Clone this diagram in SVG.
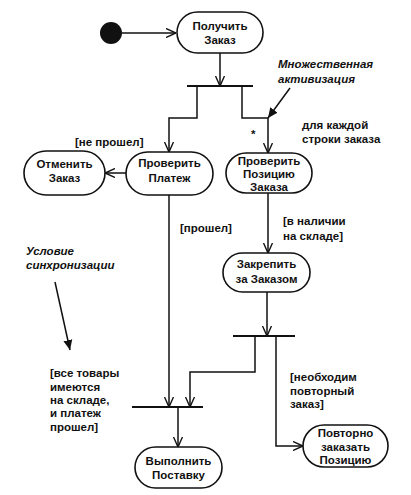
<svg xmlns="http://www.w3.org/2000/svg" width="411" height="495" viewBox="0 0 411 495">
<defs>
<style>
.n{fill:#fff;stroke:#111;stroke-width:1.6}
.t{font-family:"Liberation Sans",Arial,sans-serif;font-weight:bold;font-size:11.5px;fill:#111}
.c{text-anchor:middle}
.i{font-style:italic}
.e{fill:none;stroke:#111;stroke-width:1.5}
.b{stroke:#111;stroke-width:2.2}
</style>
<marker id="open" viewBox="0 0 10 10" refX="10" refY="5" markerWidth="10" markerHeight="10" markerUnits="userSpaceOnUse" orient="auto">
<path d="M0,0.5 L10,5 L0,9.5" fill="none" stroke="#111" stroke-width="1.4"/>
</marker>
<marker id="fill" viewBox="0 0 10 10" refX="10" refY="5" markerWidth="10" markerHeight="10" markerUnits="userSpaceOnUse" orient="auto">
<path d="M0,0.5 L10,5 L0,9.5 Z" fill="#111"/>
</marker>
</defs>
<rect width="411" height="495" fill="#fff"/>

<g id="connectors">
<path class="e" d="M122,33 L176,33" marker-end="url(#open)"/>
<path class="e" d="M220,53 L220,86" marker-end="url(#open)"/>
<line class="b" x1="187" y1="86" x2="253" y2="86"/>
<path class="e" d="M197,86 L197,118 L169,118 L169,152" marker-end="url(#open)"/>
<path class="e" d="M242,86 L242,118 L268,118 L268,153" marker-end="url(#open)"/>
<path class="e" d="M126,173 L105,173" marker-end="url(#open)"/>
<path class="e" d="M268,193 L268,253" marker-end="url(#open)"/>
<path class="e" d="M267,292 L267,336" marker-end="url(#open)"/>
<line class="b" x1="233" y1="336" x2="295" y2="336"/>
<path class="e" d="M255,336 L255,372 L190,372 L190,407" marker-end="url(#open)"/>
<path class="e" d="M169,195 L169,407" marker-end="url(#open)"/>
<line class="b" x1="132" y1="407" x2="203" y2="407"/>
<path class="e" d="M178,407 L178,447" marker-end="url(#open)"/>
<path class="e" d="M276,336 L276,446 L303,446" marker-end="url(#open)"/>
<path class="e" d="M290,88 L268,118" marker-end="url(#fill)"/>
<path class="e" d="M55,282 L70,350" marker-end="url(#fill)"/>
</g>

<g id="start"><circle cx="111" cy="33" r="11" fill="#111"/></g>

<g id="receive">
<rect class="n" x="177" y="12" width="86" height="41" rx="20.5"/>
<text class="t c" x="220" y="30">Получить</text>
<text class="t c" x="220" y="44">Заказ</text>
</g>

<g id="cancel">
<rect class="n" x="24" y="151" width="81" height="44" rx="22"/>
<text class="t c" x="64.5" y="168">Отменить</text>
<text class="t c" x="64.5" y="182">Заказ</text>
</g>

<g id="checkPay">
<rect class="n" x="126" y="152" width="87" height="43" rx="21.5"/>
<text class="t c" x="169.5" y="167">Проверить</text>
<text class="t c" x="169.5" y="182">Платеж</text>
</g>

<g id="checkItem">
<rect class="n" x="226" y="153" width="86" height="40" rx="20"/>
<text class="t c" x="269" y="165">Проверить</text>
<text class="t c" x="269" y="178">Позицию</text>
<text class="t c" x="269" y="191">Заказа</text>
</g>

<g id="assign">
<rect class="n" x="223" y="253" width="87" height="39" rx="19.5"/>
<text class="t c" x="266.5" y="268">Закрепить</text>
<text class="t c" x="266.5" y="283">за Заказом</text>
</g>

<g id="deliver">
<rect class="n" x="135" y="447" width="87" height="41" rx="20.5"/>
<text class="t c" x="178.5" y="465">Выполнить</text>
<text class="t c" x="178.5" y="479">Поставку</text>
</g>

<g id="reorder">
<rect class="n" x="303" y="425" width="85" height="42" rx="21"/>
<text class="t c" x="345.5" y="437">Повторно</text>
<text class="t c" x="345.5" y="451">заказать</text>
<text class="t c" x="345.5" y="464">Позицию</text>
</g>

<g id="labels">
<text class="t i" x="278" y="68">Множественная</text>
<text class="t i" x="278" y="83">активизация</text>
<text class="t" x="251" y="138">*</text>
<text class="t" x="302" y="129">для каждой</text>
<text class="t" x="302" y="143">строки заказа</text>
<text class="t" x="75" y="146">[не прошел]</text>
<text class="t" x="180" y="232">[прошел]</text>
<text class="t" x="283" y="225">[в наличии</text>
<text class="t" x="283" y="240">на складе]</text>
<text class="t i" x="26" y="255">Условие</text>
<text class="t i" x="26" y="269">синхронизации</text>
<text class="t" x="50" y="377">[все товары</text>
<text class="t" x="50" y="391">имеются</text>
<text class="t" x="50" y="404">на складе,</text>
<text class="t" x="50" y="417">и платеж</text>
<text class="t" x="50" y="431">прошел]</text>
<text class="t" x="290" y="381">[необходим</text>
<text class="t" x="290" y="395">повторный</text>
<text class="t" x="290" y="408">заказ]</text>
</g>
</svg>
